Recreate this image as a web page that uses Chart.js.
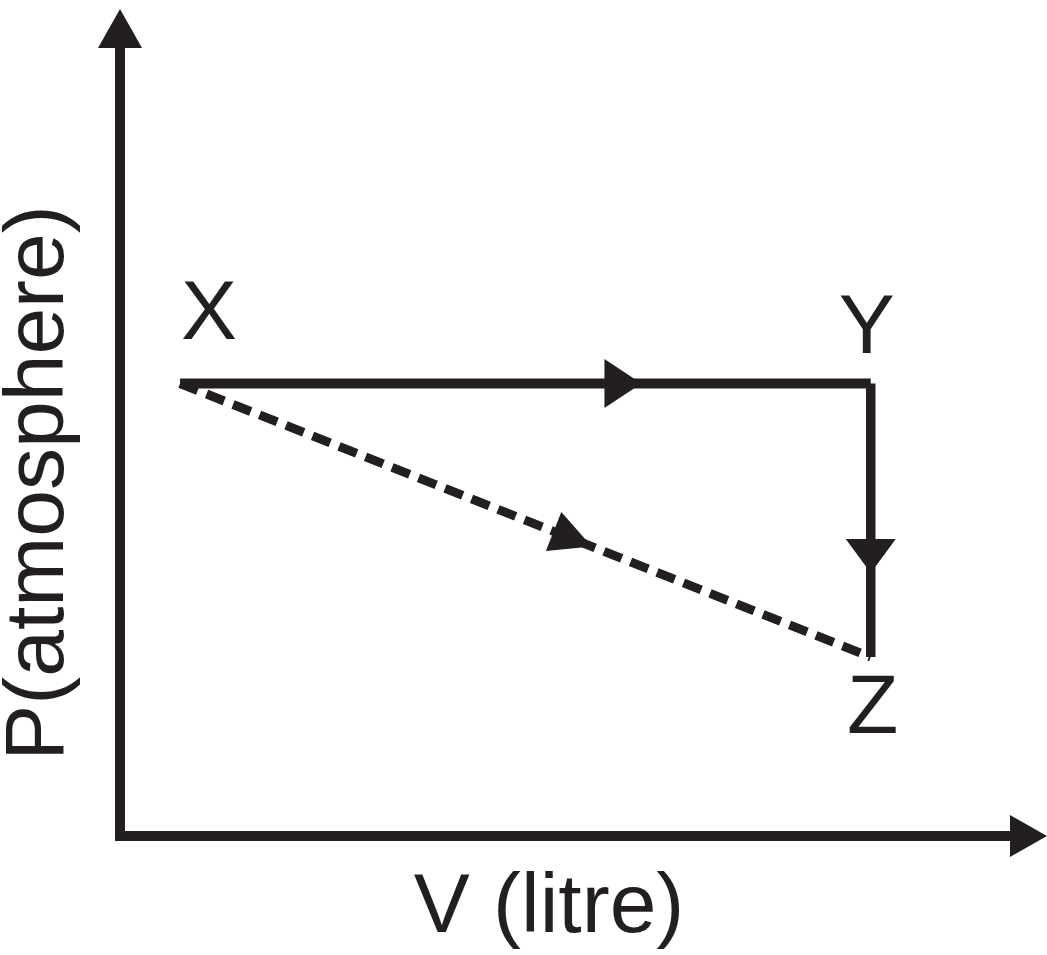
<!DOCTYPE html>
<html>
<head>
<meta charset="utf-8">
<script src="https://cdn.jsdelivr.net/npm/chart.js@4/dist/chart.umd.min.js"></script>
<style>
  html, body { margin: 0; padding: 0; background: #ffffff; }
  #wrap { width: 1047px; height: 955px; }
  canvas { display: block; }
</style>
</head>
<body>
<div id="wrap"><canvas id="c" width="1047" height="955"></canvas></div>
<script>
// ---- data ----
const pointLabels = ['X', 'Y', 'Z'];
const volume = [0.7, 8.75, 8.75];      // V (litre), arbitrary units
const pressure = [6.41, 6.41, 2.535];  // P (atmosphere), arbitrary units
const xTitle = 'V (litre)';
const yTitle = 'P(atmosphere)';

// ---- style ----
const INK = '#231f20';
const FONT = '"Liberation Sans", Arial, Helvetica, sans-serif';

const pt = i => ({ x: volume[i], y: pressure[i] });

// label offsets (px) relative to the point, baseline alignment
const labelOffsets = [ [29, -44.5], [-4, -30.5], [2, 76] ];
// arrow heads on each path: [fromIdx, toIdx, tipFraction, length, halfWidth]
const pathArrows = [ [0, 1, 0.668, 37, 24.5], [1, 2, 0.693, 34, 25], [0, 2, 0.596, 41, 21] ];

function tri(ctx, tx, ty, dx, dy, len, hw) {
  const n = Math.hypot(dx, dy); const ux = dx / n, uy = dy / n;
  const bx = tx - ux * len, by = ty - uy * len;
  ctx.beginPath();
  ctx.moveTo(tx, ty);
  ctx.lineTo(bx - uy * hw, by + ux * hw);
  ctx.lineTo(bx + uy * hw, by - ux * hw);
  ctx.closePath();
  ctx.fill();
}

const decor = {
  id: 'decor',
  afterDatasetsDraw(chart) {
    const ctx = chart.ctx;
    const xs = chart.scales.x, ys = chart.scales.y;
    const ca = chart.chartArea;
    ctx.save();
    ctx.fillStyle = INK; ctx.strokeStyle = INK;
    // axes
    const ax = ca.left, ay = ca.bottom;
    ctx.lineWidth = 10; ctx.lineCap = 'butt';
    ctx.beginPath();
    ctx.moveTo(ax, ay + 5); ctx.lineTo(ax, 46);
    ctx.moveTo(ax - 5, ay); ctx.lineTo(1012, ay);
    ctx.stroke();
    tri(ctx, ax, 9, 0, -1, 39, 22);
    tri(ctx, 1047, ay, 1, 0, 37, 21);
    // path arrow heads
    pathArrows.forEach(([a, b, t, len, hw]) => {
      const x0 = xs.getPixelForValue(volume[a]), y0 = ys.getPixelForValue(pressure[a]);
      const x1 = xs.getPixelForValue(volume[b]), y1 = ys.getPixelForValue(pressure[b]);
      tri(ctx, x0 + (x1 - x0) * t, y0 + (y1 - y0) * t, x1 - x0, y1 - y0, len, hw);
    });
    // point labels
    ctx.font = '84px ' + FONT;
    ctx.textAlign = 'center'; ctx.textBaseline = 'alphabetic';
    pointLabels.forEach((s, i) => {
      const px = xs.getPixelForValue(volume[i]), py = ys.getPixelForValue(pressure[i]);
      ctx.fillText(s, px + labelOffsets[i][0], py + labelOffsets[i][1]);
    });
    ctx.restore();
  }
};

new Chart(document.getElementById('c'), {
  type: 'scatter',
  data: {
    datasets: [
      { data: [pt(0), pt(1)], showLine: true, borderColor: INK, borderWidth: 10, pointRadius: 0, borderCapStyle: 'butt' },
      { data: [pt(1), pt(2)], showLine: true, borderColor: INK, borderWidth: 9.5, pointRadius: 0, borderCapStyle: 'butt' },
      { data: [pt(0), pt(2)], showLine: true, borderColor: INK, borderWidth: 9, pointRadius: 0, borderDash: [19, 9.5], borderCapStyle: 'butt' }
    ]
  },
  options: {
    responsive: false,
    animation: false,
    devicePixelRatio: 1,
    layout: { padding: { left: 0, right: 69, top: 130, bottom: 0 } },
    plugins: { legend: { display: false }, tooltip: { enabled: false }, title: { display: false } },
    scales: {
      x: {
        type: 'linear', min: 0, max: 10,
        grid: { display: false, drawTicks: false },
        border: { display: false },
        ticks: { display: false },
        title: { display: true, text: xTitle, color: INK,
                 font: { family: FONT, size: 84, lineHeight: 0.9 },
                 padding: { top: 35.2, bottom: 8.2 } }
      },
      y: {
        type: 'linear', min: 0, max: 10,
        grid: { display: false, drawTicks: false },
        border: { display: false },
        ticks: { display: false },
        title: { display: true, text: yTitle, color: INK,
                 font: { family: FONT, size: 84, lineHeight: 0.9 },
                 padding: { top: 2.2, bottom: 42.2 } }
      }
    }
  },
  plugins: [decor]
});
</script>
</body>
</html>
